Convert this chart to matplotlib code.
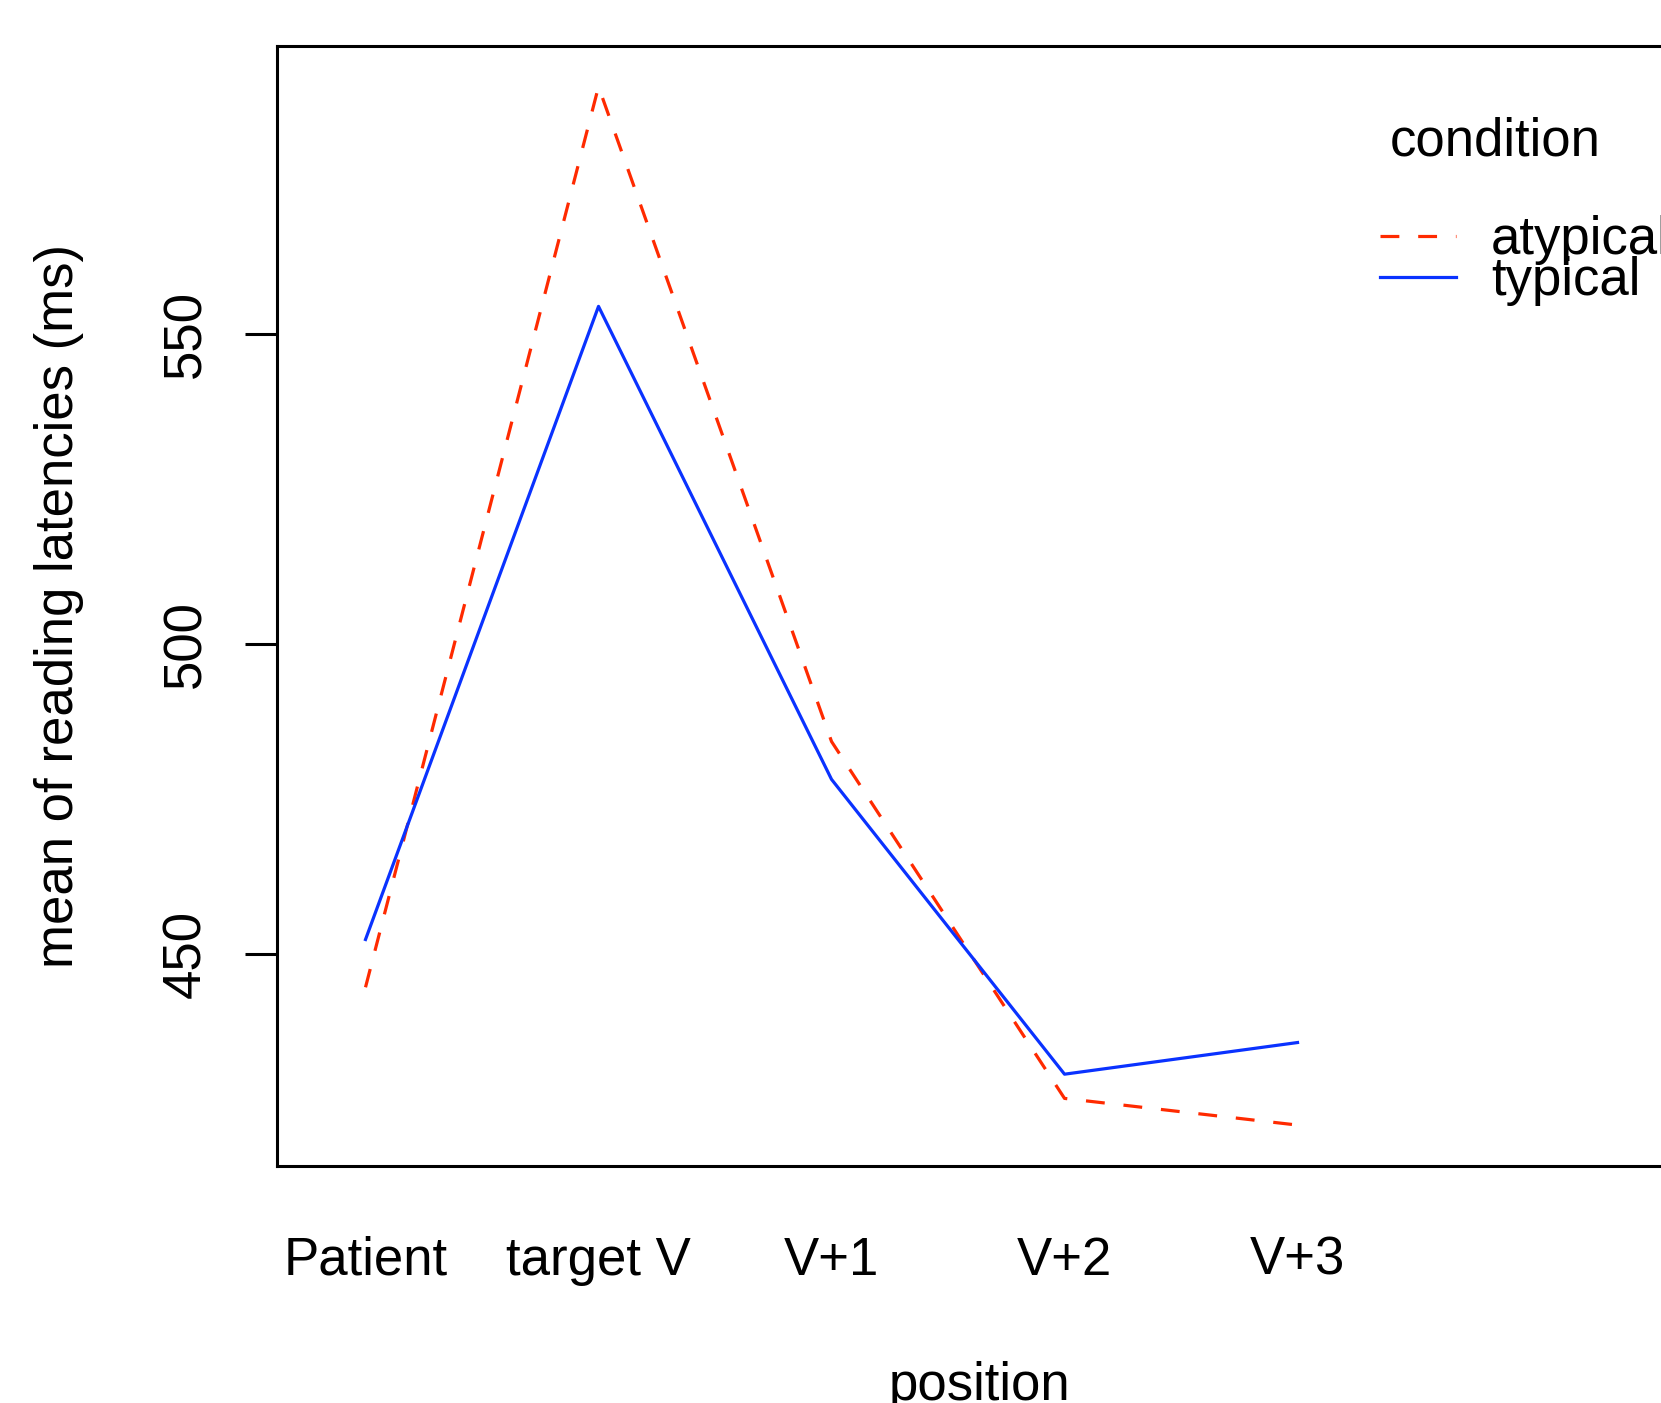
import matplotlib
matplotlib.use("Agg")
import matplotlib.pyplot as plt

positions = ["Patient", "target V", "V+1", "V+2", "V+3"]
atypical = [444.7, 589.8, 484.3, 426.8, 422.5]
typical = [452.4, 554.4, 478.2, 430.7, 435.8]
yticks = [450, 500, 550]

plt.rcParams['font.family'] = ['Liberation Sans', 'DejaVu Sans']
FS = 38
W, H = 1661, 1403
fig = plt.figure(figsize=(W / 100, H / 100), dpi=100)
left, right, top, bottom = 276.5, 1682, 45.5, 1166.3
ax = fig.add_axes([left / W, 1 - bottom / H, (right - left) / W, (bottom - top) / H])

x = list(range(1, len(positions) + 1))
ax.plot(x, atypical, color='#FF2A00', lw=2.3, dashes=(5.9, 5.9), label='atypical')
ax.plot(x, typical, color='#0A32FF', lw=2.3, label='typical')

ax.set_xlim(0.618, 6.65)
ax.set_ylim(415.86, 596.43)
ax.set_xticks(x)
ax.set_xticklabels(positions, fontsize=FS)
ax.tick_params(axis='x', length=0, pad=50)
ax.set_yticks(yticks)
ax.set_yticklabels([str(v) for v in yticks], fontsize=FS, rotation=90, va='center')
ax.tick_params(axis='y', length=23, width=2.2, pad=24, direction='out')
for s in ax.spines.values():
    s.set_linewidth(2.2)

ax.set_xlabel('position', fontsize=FS)
ax.xaxis.set_label_coords(0.5, -0.1735)
ax.set_ylabel('mean of reading latencies (ms)', fontsize=FS)
ax.yaxis.set_label_coords(-0.137, 0.5)

leg = ax.legend(fontsize=FS, frameon=False,
                handlelength=1.44, handletextpad=0.66, labelspacing=-0.17,
                loc='upper left', bbox_to_anchor=(1380 / W, 1 - 215 / H),
                bbox_transform=fig.transFigure, borderpad=0, borderaxespad=0)
fig.text(1390 / W, 1 - 141 / H, 'condition', fontsize=FS, ha='left', va='center')

fig.savefig('out.png', dpi=100)
